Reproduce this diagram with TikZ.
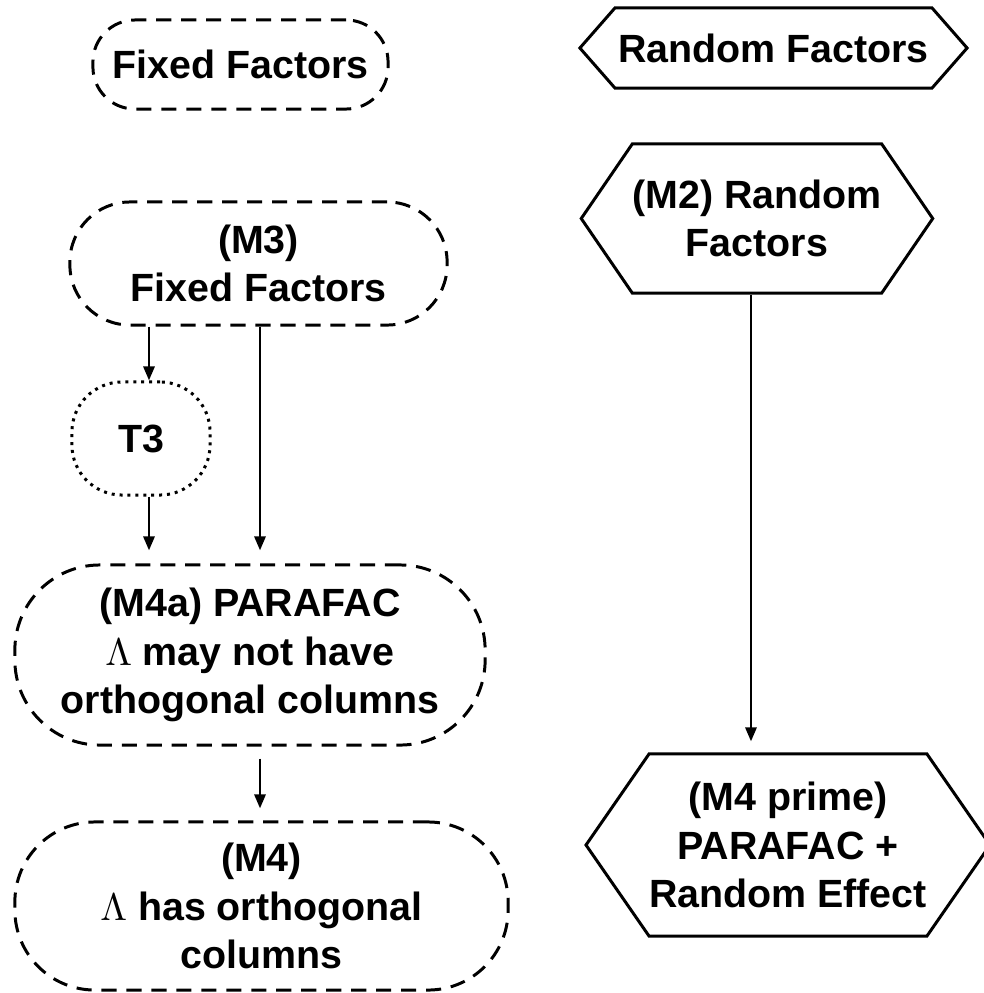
\documentclass[tikz,border=0pt]{standalone}
\usepackage{fontspec}
\setmainfont{Liberation Sans}
\usetikzlibrary{shapes.symbols,arrows.meta}
\tikzset{
  fixedbox/.style={draw,line width=0.85pt,dash pattern=on 4.3pt off 2.8pt,align=center,inner sep=0pt},
  randhex/.style={draw,line width=0.85pt,signal,signal to=west and east,align=center,inner sep=0pt},
  testbox/.style={draw,line width=0.85pt,dash pattern=on 0.85pt off 1.4pt,align=center,inner sep=0pt},
  arr/.style={-{Triangle[length=0.14cm,width=0.11cm]},line width=0.8pt}
}
\begin{document}
\begin{tikzpicture}[x=0.01cm,y=-0.01cm,font=\fontsize{11.2}{13.8}\selectfont\bfseries]
\useasboundingbox (0,0) rectangle (984,993);
% top row
\node[fixedbox,minimum width=2.95cm,minimum height=0.89cm,rounded corners=0.42cm] (ff) at (240.5,64.5) {Fixed Factors};
\node[randhex,minimum width=3.87cm,minimum height=0.80cm,signal pointer angle=97.6] (rf) at (773.5,48) {Random Factors};
% fixed side
\node[fixedbox,minimum width=3.77cm,minimum height=1.23cm,rounded corners=0.6cm] (m3) at (258.5,263.5) {(M3)\\Fixed Factors};
\node[testbox,minimum width=1.38cm,minimum height=1.13cm,rounded corners=0.5cm] (t3) at (141,438.5) {T3};
\node[fixedbox,minimum width=4.70cm,minimum height=1.80cm,rounded corners=0.85cm] (m4a) at (250,655) {(M4a) PARAFAC\\$\Lambda$ may not have\\orthogonal columns};
\node[fixedbox,minimum width=4.93cm,minimum height=1.68cm,rounded corners=0.8cm] (m4) at (261.5,906) {(M4)\\$\Lambda$ has orthogonal\\columns};
% random side
\node[randhex,minimum width=3.30cm,minimum height=1.49cm,signal pointer angle=111.2] (m2) at (757,218.5) {(M2) Random\\Factors};
\node[randhex,minimum width=3.92cm,minimum height=1.82cm,signal pointer angle=110.6] (m4p) at (788,845) {(M4 prime)\\PARAFAC +\\Random Effect};
% arrows
\draw[arr] ([xshift=0.08cm]t3.north |- m3.south) -- ([xshift=0.08cm]t3.north);
\draw[arr,shorten >=0.13cm] ([xshift=0.08cm]t3.south) -- ([xshift=0.08cm]t3.south |- m4a.north);
\draw[arr,shorten >=0.13cm] ([xshift=0.1cm]m4a.north |- m3.south) -- ([xshift=0.1cm]m4a.north);
\draw[arr,shorten <=0.12cm,shorten >=0.12cm] ([xshift=0.1cm]m4a.south) -- ([xshift=0.1cm]m4a.south |- m4.north);
\draw[arr,shorten >=0.11cm] ([xshift=-0.06cm]m2.south) -- ([xshift=-0.06cm]m2.south |- m4p.north);
\end{tikzpicture}
\end{document}
